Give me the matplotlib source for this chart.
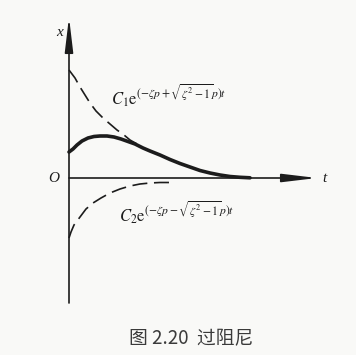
"""Overdamped response: x(t) and its two exponential parts."""

import matplotlib
matplotlib.use('Agg')
import matplotlib.pyplot as plt

plt.rcParams['mathtext.fontset'] = 'stix'
plt.rcParams['font.family'] = ['Liberation Serif', 'DejaVu Serif']

# Curves (t, x in arbitrary units)
t_upper = [0.0, 0.06, 0.11, 0.16, 0.21, 0.27, 0.34, 0.41, 0.48, 0.55,
           0.61, 0.68, 0.74, 0.81, 0.88, 0.96]
x_upper = [1.08, 1.00, 0.91, 0.83, 0.75, 0.67, 0.60, 0.54, 0.48, 0.43,
           0.38, 0.34, 0.30, 0.27, 0.24, 0.21]

t_total = [0.0, 0.04, 0.08, 0.13, 0.19, 0.25, 0.31, 0.38, 0.45, 0.52,
           0.59, 0.66, 0.74, 0.81, 0.91, 1.01, 1.11, 1.21, 1.31, 1.41,
           1.51, 1.61, 1.71, 1.81]
x_total = [0.26, 0.29, 0.33, 0.37, 0.40, 0.415, 0.42, 0.42, 0.41, 0.39,
           0.365, 0.34, 0.30, 0.27, 0.23, 0.185, 0.145, 0.11, 0.075, 0.05,
           0.03, 0.015, 0.007, 0.002]

t_lower = [0.0, 0.02, 0.05, 0.11, 0.17, 0.24, 0.32, 0.41, 0.51, 0.61,
           0.71, 0.81, 0.91, 1.01]
x_lower = [-0.60, -0.54, -0.47, -0.39, -0.31, -0.25, -0.20, -0.15, -0.11,
           -0.08, -0.06, -0.05, -0.045, -0.045]

label_upper = r'$C_1\mathrm{e}^{(-\zeta p+\sqrt{\zeta^2-1}p)t}$'
label_lower = r'$C_2\mathrm{e}^{(-\zeta p-\sqrt{\zeta^2-1}p)t}$'
caption = '图 2.20  过阻尼'

ink = '#1c1c1c'

fig = plt.figure(figsize=(3.56, 3.55), dpi=100, facecolor='#f9f9f7')
ax = fig.add_axes([0, 0, 1, 1])
ax.set_facecolor('#f9f9f7')
ax.set_xlim(-0.69, 2.87)
ax.set_ylim(-1.77, 1.78)
ax.axis('off')

# Axes with long narrow arrow heads
arrow = dict(arrowstyle='-|>,head_length=2.1,head_width=0.25', color=ink,
             lw=1.2, shrinkA=0, shrinkB=0)
ax.annotate('', xy=(0, 1.61), xytext=(0, -1.25), arrowprops=arrow)
ax.annotate('', xy=(2.48, 0), xytext=(0, 0), arrowprops=arrow)

ax.plot(t_upper, x_upper, color=ink, lw=1.2, dashes=(9, 4))
ax.plot(t_lower, x_lower, color=ink, lw=1.2, dashes=(9, 4))
ax.plot(t_total, x_total, color=ink, lw=2.6, solid_capstyle='round')

ax.text(-0.09, 1.46, 'x', style='italic', fontsize=11, color=ink,
        ha='center', va='center')
ax.text(-0.15, 0.0, 'O', style='italic', fontsize=11, color=ink,
        ha='center', va='center')
ax.text(2.55, -0.01, 't', style='italic', fontsize=11, color=ink,
        ha='center', va='center')

ax.text(0.42, 0.82, label_upper, fontsize=12, color=ink, ha='left',
        va='center')
ax.text(0.50, -0.35, label_lower, fontsize=12, color=ink, ha='left',
        va='center')

ax.text(1.22, -1.61, caption, fontsize=13.5, color='#3a3a3a', ha='center',
        va='center', family=['Noto Sans CJK SC', 'DejaVu Sans'])

fig.savefig('out.png', dpi=100, facecolor=fig.get_facecolor())
